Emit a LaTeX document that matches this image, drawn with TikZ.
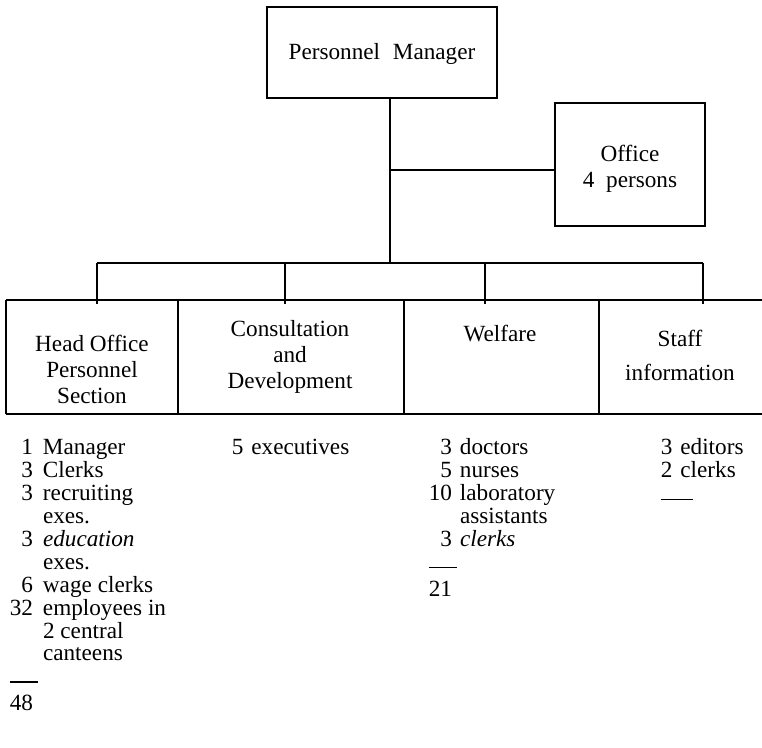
\documentclass[tikz,border=0pt]{standalone}
\usepackage{fontspec}
\setmainfont{Liberation Serif}
\newcommand\myrule[1]{\multicolumn{2}{@{}l}{\rule[2.5pt]{#1}{0.6pt}}}
\newcommand\mytot[1]{\multicolumn{2}{@{}l}{#1}}
\begin{document}
\begin{tikzpicture}[x=0.5pt,y=-0.5pt, line width=0.8pt,
  box/.style={draw, inner sep=0pt, align=center, font=\fontsize{11.6}{13}\selectfont},
  cell/.style={inner sep=0pt, minimum height=56pt},
  hd/.style={align=center, inner sep=0pt, font=\fontsize{11.6}{13}\selectfont},
  lst/.style={anchor=base west, inner sep=0pt, font=\fontsize{11.6}{11.4}\selectfont}]
\useasboundingbox (0,0) rectangle (762,748);

% top boxes
\node[box, minimum width=115pt, minimum height=45.5pt] (pm) at (382,52.5) {\rule{0pt}{10pt}Personnel\hspace{0.55em}Manager};
\node[box, minimum width=75pt, minimum height=61.5pt] (off) at (630,164.5) {\rule{0pt}{12pt}Office\\4\hspace{0.5em}persons};

% section cells
\node[cell, minimum width=85pt] (c1) at (92,357) {};
\node[cell, minimum width=113pt] (c2) at (290,357) {};
\node[cell, minimum width=97.5pt] (c3) at (500.5,357) {};
\node[cell, minimum width=82pt] (c4) at (680,357) {};

\draw (c1.north west) -- (c4.north east);
\draw (c1.south west) -- (c4.south east);
\draw (c1.north west) -- (c1.south west);
\draw (c1.north east) -- (c1.south east);
\draw (c2.north east) -- (c2.south east);
\draw (c3.north east) -- (c3.south east);

\node[hd] (t1) at (92,369) {Head Office\\Personnel\\Section};
\node[hd] (t2) at (290,357) {Consultation\\and\\Development};
\node[hd] (t3) at (500,334) {Welfare};
\node[hd] (t4) at (680,355) {Staff\\[4pt]information};

% connectors
\coordinate (j) at (390,263);
\coordinate (br) at (390,170);
\coordinate (b1) at (97,263);
\coordinate (b2) at (285,263);
\coordinate (b3) at (485,263);
\coordinate (b4) at (703,263);
\draw (pm.south -| j) -- (j);
\draw (br) -- (br -| off.west);
\draw (b1) -- (b4);
\draw (b1) -- ([yshift=-2pt]b1 |- c1.north);
\draw (b2) -- ([yshift=-2pt]b2 |- c2.north);
\draw (b3) -- ([yshift=-2pt]b3 |- c3.north);
\draw (b4) -- ([yshift=-2pt]b4 |- c4.north);

% lists
\node[lst] (l1) at (9,455) {\begin{tabular}[t]{@{}r@{\hspace{5pt}}l@{}}
1 & Manager\\
3 & Clerks\\
3 & recruiting\\
  & exes.\\
3 & \textit{education}\\
  & exes.\\
6 & wage clerks\\
32 & employees in\\
  & 2 central\\
  & canteens\\[2pt]
\myrule{14pt}\\
\mytot{48}
\end{tabular}};

\node[lst] (l2) at (231,455) {5\hspace{4pt}executives};

\node[lst] (l3) at (428,455) {\begin{tabular}[t]{@{}r@{\hspace{4pt}}l@{}}
3 & doctors\\
5 & nurses\\
10 & laboratory\\
  & assistants\\
3 & \textit{clerks}\\[2pt]
\myrule{14pt}\\
\mytot{21}
\end{tabular}};

\node[lst] (l4) at (660,455) {\begin{tabular}[t]{@{}r@{\hspace{4pt}}l@{}}
3 & editors\\
2 & clerks\\[2pt]
\myrule{16pt}
\end{tabular}};
\end{tikzpicture}
\end{document}
